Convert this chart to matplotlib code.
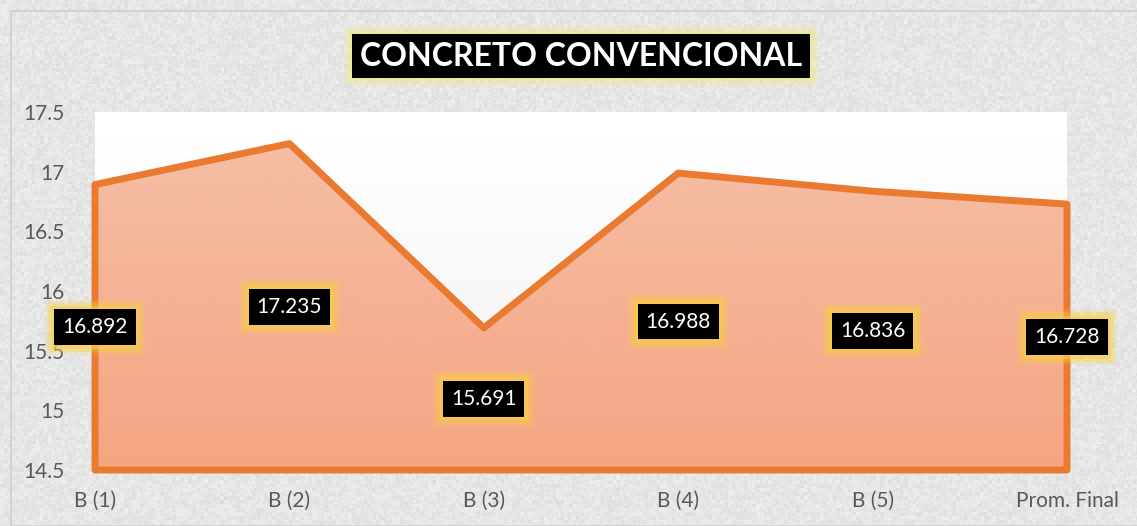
import numpy as np
import matplotlib
matplotlib.use("Agg")
import matplotlib.pyplot as plt
from matplotlib.patches import Polygon, Rectangle

# --- datos ---
categorias = ["B (1)", "B (2)", "B (3)", "B (4)", "B (5)", "Prom. Final"]
valores = [16.892, 17.235, 15.691, 16.988, 16.836, 16.728]
etiquetas = ["16.892", "17.235", "15.691", "16.988", "16.836", "16.728"]
y_ticks = [14.5, 15, 15.5, 16, 16.5, 17, 17.5]
y_tick_labels = ["14.5", "15", "15.5", "16", "16.5", "17", "17.5"]
titulo = "CONCRETO CONVENCIONAL"

plt.rcParams['font.family'] = ['Lato', 'DejaVu Sans']

fig = plt.figure(figsize=(11.37, 5.26), dpi=100)

# fondo con textura gris (solo decorativo)
bg = fig.add_axes([0, 0, 1, 1], zorder=-10)
rng = np.random.default_rng(3)
coarse = rng.random((132, 285))
mid = rng.random((263, 569))
fine = rng.random((526, 1137))
tex = (0.90 + 0.04 * (np.kron(coarse, np.ones((4, 4)))[:526, :1137] - 0.5)
       + 0.03 * (np.kron(mid, np.ones((2, 2)))[:526, :1137] - 0.5)
       + 0.03 * (fine - 0.5))
bg.imshow(tex, cmap="gray", vmin=0, vmax=1, aspect="auto", interpolation="bilinear")
bg.set_axis_off()
fig.patches.append(Rectangle((11 / 1137, 0), 1.2, 1 - 11 / 526, transform=fig.transFigure,
                             fill=False, edgecolor="#cfcfcf", linewidth=1.2, zorder=-5))

ax = fig.add_axes([95 / 1137, 1 - 470 / 526, (1067 - 95) / 1137, (470 - 112) / 526])
x = np.arange(len(categorias))
ymin, ymax = 14.5, 17.5
ax.set_xlim(0, len(categorias) - 1)
ax.set_ylim(ymin, ymax)

# fondo del area de trazado (degradado blanco -> gris claro)
grad = np.linspace(1.0, 0.94, 100).reshape(-1, 1)
ax.imshow(grad, cmap="gray", vmin=0, vmax=1, aspect="auto",
          extent=(0, len(categorias) - 1, ymin, ymax), origin="upper", zorder=0)

# area con degradado naranja
verts = [(0, ymin)] + list(zip(x, valores)) + [(x[-1], ymin)]
poly = Polygon(verts, closed=True, facecolor="none", edgecolor="none")
ax.add_patch(poly)
top_c = np.array([245, 190, 165]) / 255
bot_c = np.array([245, 165, 130]) / 255
t = np.linspace(0, 1, 200).reshape(-1, 1, 1)
img = top_c * (1 - t) + bot_c * t
im = ax.imshow(img, aspect="auto", extent=(0, len(categorias) - 1, ymin, max(valores)),
               origin="upper", zorder=1)
im.set_clip_path(poly)
outline = Polygon(verts, closed=True, facecolor="none", edgecolor="#E97A30",
                  linewidth=5, joinstyle="round", zorder=2, clip_on=False)
ax.add_patch(outline)

# etiquetas de datos con brillo
for xi, v, lab in zip(x, valores, etiquetas):
    yc = (v + ymin) / 2
    for pad, a in [(0.85, 0.18), (0.7, 0.3), (0.55, 0.5)]:
        ax.text(xi, yc, lab, ha="center", va="center", fontsize=15, color="none",
                zorder=3, clip_on=False,
                bbox=dict(boxstyle=f"square,pad={pad}", facecolor="#F8D040",
                          edgecolor="none", alpha=a))
    ax.text(xi, yc, lab, ha="center", va="center", fontsize=15, color="white",
            zorder=4, clip_on=False,
            bbox=dict(boxstyle="square,pad=0.38", facecolor="black", edgecolor="none"))

ax.set_xticks(x)
ax.set_xticklabels(categorias)
ax.set_yticks(y_ticks)
ax.set_yticklabels(y_tick_labels)
ax.tick_params(axis="both", length=0, labelsize=15, labelcolor="#595959")
ax.tick_params(axis="x", pad=15)
ax.tick_params(axis="y", pad=22)
for s in ax.spines.values():
    s.set_visible(False)

# titulo
for pad, a in [(0.5, 0.2), (0.4, 0.35), (0.3, 0.5)]:
    fig.text(0.511, 1 - 56 / 526, titulo, ha="center", va="center", fontsize=23,
             fontweight="bold", color="none",
             bbox=dict(boxstyle=f"square,pad={pad}", facecolor="#F2EA80",
                       edgecolor="none", alpha=a))
fig.text(0.511, 1 - 56 / 526, titulo, ha="center", va="center", fontsize=23,
         fontweight="bold", color="white",
         bbox=dict(boxstyle="square,pad=0.24", facecolor="black", edgecolor="none"))

plt.savefig("out.png", dpi=100)
